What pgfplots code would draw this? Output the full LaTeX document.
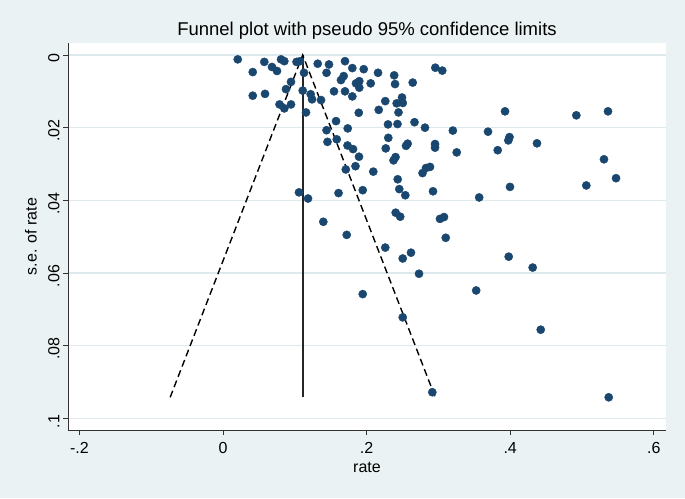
\documentclass[border=0pt]{standalone}
\usepackage{pgfplots}
\pgfplotsset{compat=1.18}
\usepackage{fontspec}
\setmainfont{Liberation Sans}
\definecolor{bgc}{RGB}{234,242,243}
\definecolor{gridc}{RGB}{222,233,237}
\definecolor{navy}{RGB}{26,71,111}
\begin{document}
\begin{tikzpicture}
\fill[bgc] (0,0) rectangle (685pt,498pt);
\begin{axis}[at={(68pt,68pt)}, anchor=south west, scale only axis,
  width=598pt, height=387pt,
  xmin=-0.2159, xmax=0.617, ymin=-0.0033, ymax=0.1032, y dir=reverse,
  axis background/.style={fill=white},
  axis x line*=bottom, axis y line*=left,
  axis line style={draw=black!80, line width=1pt},
  xtick={-0.2,0,0.2,0.4,0.6}, xticklabels={-.2,0,.2,.4,.6},
  ytick={0,0.02,0.04,0.06,0.08,0.1}, yticklabels={0,.02,.04,.06,.08,.1},
  tick align=outside, major tick length=5pt,
  tick style={black!80, line width=0.9pt},
  ticklabel style={font=\fontsize{16}{16}\selectfont},
  xticklabel style={yshift=-4pt},
  yticklabel style={rotate=90, anchor=south, xshift=-3pt},
  ymajorgrids, major grid style={gridc, line width=1.3pt},
  clip=false,
]
\addplot[only marks, mark=*, mark size=4.1pt, mark options={fill=navy, draw=navy}] coordinates {
(0.0205,0.0012) (0.0414,0.0047) (0.0575,0.0019) (0.0682,0.0033) (0.0752,0.0044)
(0.0808,0.0012) (0.0854,0.0017) (0.1024,0.0019) (0.1072,0.0017) (0.1128,0.0049)
(0.1319,0.0024) (0.1442,0.0049) (0.1476,0.0026) (0.0947,0.0074) (0.0877,0.0094)
(0.1110,0.0098) (0.1221,0.0108) (0.1240,0.0122) (0.1365,0.0124) (0.0414,0.0112)
(0.0585,0.0107) (0.0787,0.0136) (0.0854,0.0147) (0.0947,0.0136) (0.1156,0.0158)
(0.1699,0.0017) (0.1801,0.0036) (0.1960,0.0039) (0.2159,0.0049) (0.2384,0.0056)
(0.2396,0.0080) (0.2642,0.0076) (0.1681,0.0058) (0.1643,0.0069) (0.1852,0.0078)
(0.1898,0.0072) (0.1898,0.0090) (0.2057,0.0078) (0.1546,0.0100) (0.1699,0.0100)
(0.1801,0.0114) (0.2260,0.0127) (0.2419,0.0133) (0.2493,0.0117) (0.2504,0.0132)
(0.2169,0.0151) (0.2444,0.0158) (0.1891,0.0159) (0.1574,0.0182) (0.1737,0.0202)
(0.2298,0.0191) (0.2430,0.0190) (0.2667,0.0185) (0.2813,0.0200) (0.2957,0.0035)
(0.3054,0.0043) (0.1442,0.0207) (0.1455,0.0239) (0.1058,0.0378) (0.1184,0.0395)
(0.1397,0.0459) (0.1584,0.0232) (0.1734,0.0249) (0.1811,0.0259) (0.1894,0.0280)
(0.1845,0.0306) (0.1710,0.0315) (0.2093,0.0321) (0.2302,0.0228) (0.2267,0.0257)
(0.2572,0.0244) (0.2549,0.0250) (0.2403,0.0281) (0.2375,0.0290) (0.2953,0.0245)
(0.2953,0.0255) (0.2883,0.0308) (0.2827,0.0311) (0.2779,0.0325) (0.2433,0.0342)
(0.2455,0.0369) (0.2539,0.0386) (0.1946,0.0372) (0.1609,0.0380) (0.2925,0.0375)
(0.2405,0.0434) (0.2468,0.0445) (0.1723,0.0495) (0.2260,0.0530) (0.2618,0.0544)
(0.3928,0.0155) (0.3201,0.0208) (0.3691,0.0211) (0.3990,0.0226) (0.3974,0.0235)
(0.4373,0.0243) (0.3255,0.0268) (0.3826,0.0262) (0.3568,0.0392) (0.3997,0.0363)
(0.3022,0.0451) (0.3078,0.0446) (0.4921,0.0166) (0.5362,0.0155) (0.5306,0.0287)
(0.5474,0.0339) (0.5060,0.0359) (0.3102,0.0503) (0.3979,0.0555) (0.4313,0.0585)
(0.3526,0.0648) (0.2503,0.0560) (0.2730,0.0602) (0.1946,0.0658) (0.2503,0.0722)
(0.2915,0.0928) (0.4425,0.0756) (0.5372,0.0942)
};
\addplot[black!85, line width=1.7pt] coordinates {(0.111,0) (0.111,0.0942)};
\addplot[black, line width=1.4pt, dash pattern=on 7pt off 4pt] coordinates {(-0.0736,0.0942) (0.111,0) (0.2956,0.0942)};
\end{axis}
\node[font=\fontsize{18.5}{18.5}\selectfont] at (367pt,467pt) {Funnel plot with pseudo 95\% confidence limits};
\node[font=\fontsize{16}{16}\selectfont] at (367pt,31pt) {rate};
\node[font=\fontsize{16}{16}\selectfont, rotate=90] at (31pt,261.5pt) {s.e. of rate};
\end{tikzpicture}
\end{document}
